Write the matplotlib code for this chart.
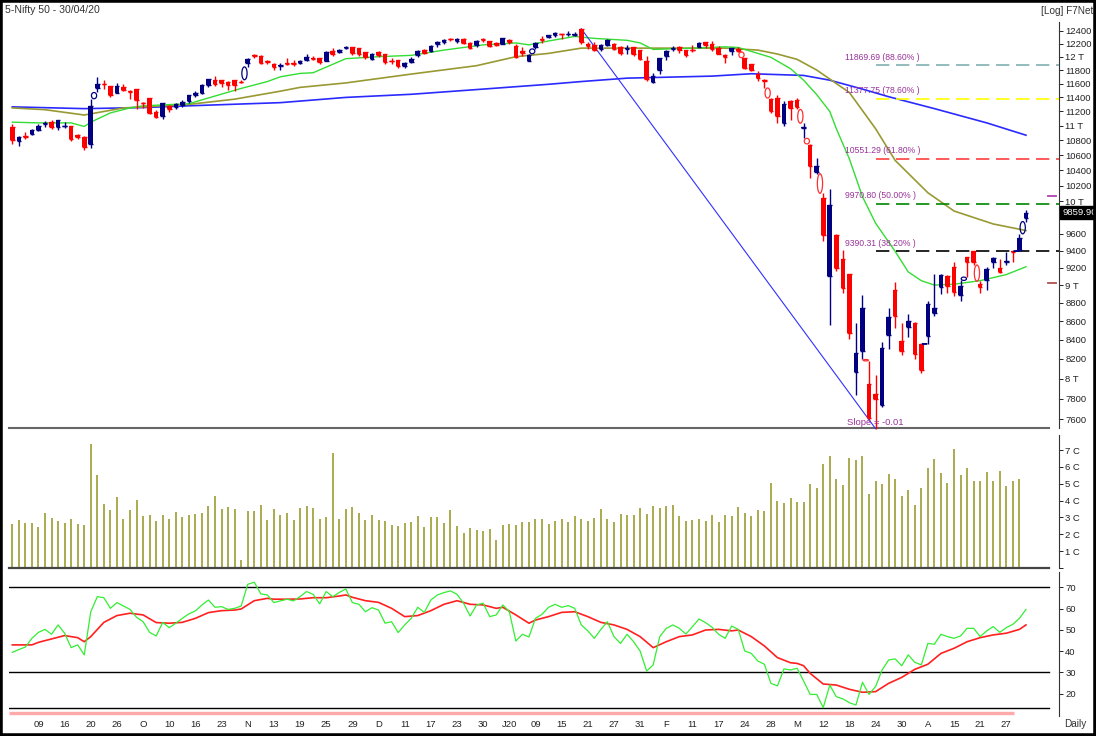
import matplotlib
matplotlib.use("Agg")
import matplotlib.pyplot as plt
from matplotlib import font_manager
from matplotlib.patches import Ellipse, Rectangle
import numpy as np

# ---------------- data (Nifty 50 daily, 03 Sep 2019 - 30 Apr 2020) ----------------
opens = [10980, 10790, 10860, 10883, 10936, 11028, 11058, 10986, 10995, 10995, 10872, 10845, 10746,
         11542, 11590, 11564, 11469, 11556, 11490, 11515, 11322, 11388, 11196, 11139, 11275, 11258,
         11297, 11348, 11436, 11467, 11580, 11657, 11657, 11620, 11646, 11629,
         11900, 12030, 12016, 11933, 11897, 11860, 11904, 11910, 11899, 11956, 11978, 11976, 11941,
         12090, 12075, 12132, 12146, 12137, 12067, 11969, 12071, 12046, 11939, 11950, 11867, 11918,
         12026, 12094, 12082, 12197, 12224, 12273, 12235, 12270, 12211, 12172, 12274, 12247, 12202,
         12198, 12261, 12170, 12079, 11939, 12153, 12271, 12296, 12333, 12349, 12348, 12329, 12430,
         12195, 12180, 12123, 12174, 12197, 12148, 12114, 12148, 12100, 11940, 11627, 11797, 12005,
         12120, 12152, 12102, 12109, 12151, 12219, 12190, 12131, 12028, 12091, 12119, 11979, 11886,
         11738, 11649, 11380, 11387, 11034, 11351, 11359, 10970, 10742, 10380, 10039, 9107, 9588,
         9300, 9123, 8063, 8286, 7945, 7848, 7735, 8451, 8949, 8385, 8540, 8584, 8356, 8446, 8689,
         8973, 9104, 9210, 8885, 9324, 9391, 9017, 9055, 9270, 9200, 9260, 9390, 9408, 9790]
highs = [11030, 10858, 10920, 10957, 11028, 11063, 11082, 11084, 11053, 10996, 10885, 10860, 11381,
         11695, 11655, 11564, 11610, 11593, 11509, 11515, 11332, 11389, 11215, 11322, 11285, 11323,
         11357, 11439, 11486, 11597, 11671, 11714, 11658, 11645, 11646, 11656,
         11982, 12034, 12021, 11950, 11906, 11907, 11973, 11946, 11957, 12039, 12013, 11976, 12084,
         12133, 12115, 12158, 12150, 12137, 12068, 12055, 12082, 12046, 11981, 11951, 11924, 12000,
         12098, 12113, 12182, 12237, 12268, 12293, 12287, 12283, 12221, 12259, 12286, 12247, 12222,
         12289, 12265, 12200, 12153, 12045, 12225, 12311, 12337, 12374, 12350, 12389, 12385, 12430,
         12231, 12226, 12190, 12273, 12216, 12163, 12179, 12150, 12103, 12017, 11749, 11986, 12098,
         12160, 12160, 12104, 12172, 12231, 12225, 12246, 12159, 12040, 12135, 12153, 11984, 11887,
         11783, 11663, 11390, 11433, 11342, 11356, 11389, 11035, 10751, 10560, 10103, 10159, 9602,
         9403, 9127, 8575, 8883, 8180, 8036, 8376, 8749, 9038, 8576, 8678, 8588, 8356, 8819, 9131,
         9128, 9112, 9261, 9053, 9324, 9391, 9044, 9208, 9323, 9296, 9377, 9390, 9600, 9889]
lows = [10746, 10723, 10816, 10867, 10925, 10985, 10957, 10945, 10968, 10796, 10812, 10671, 10691,
        11471, 11520, 11410, 11459, 11499, 11375, 11236, 11254, 11158, 11113, 11090, 11191, 11233,
        11267, 11313, 11402, 11446, 11550, 11570, 11552, 11507, 11490, 11606,
        11847, 11973, 11888, 11888, 11802, 11807, 11868, 11860, 11885, 11929, 11957, 11892, 11930,
        12016, 12049, 12112, 12022, 12006, 11969, 11956, 11998, 11888, 11887, 11832, 11832, 11900,
        11990, 12039, 12066, 12155, 12191, 12244, 12213, 12201, 12119, 12155, 12229, 12151, 12165,
        12195, 12191, 11975, 12005, 11929, 12118, 12213, 12285, 12308, 12278, 12315, 12315, 12192,
        12114, 12090, 12087, 12163, 12107, 12024, 12047, 12010, 11945, 11633, 11614, 11740, 11953,
        12084, 12061, 11990, 12074, 12144, 12139, 12091, 12037, 11908, 12030, 12071, 11813, 11782,
        11639, 11536, 11175, 11036, 11001, 11082, 11229, 10827, 10294, 10355, 9508, 8555, 9165,
        8915, 8407, 7833, 8195, 7583, 7511, 7714, 8304, 8522, 8244, 8432, 8199, 8055, 8360, 8654,
        8905, 8912, 8874, 8821, 9091, 9230, 8909, 8946, 9200, 9141, 9230, 9260, 9395, 9750]
closes = [10797.9, 10844.65, 10847.9, 10946.2, 11003.05, 11035.7, 10982.8, 11075.9, 11003.5,
          10817.6, 10840.65, 10704.8, 11274.2, 11600.2, 11588.2, 11440.2, 11571.2, 11512.4,
          11474.45, 11359.9, 11314, 11174.75, 11126.4, 11313.3, 11234.55, 11305.05, 11341.15,
          11428.3, 11464, 11586.35, 11661.85, 11588.35, 11604.1, 11582.6, 11583.9, 11627.15,
          11966.05, 12012.05, 11908.15, 11913.45, 11840.45, 11872.1, 11895.45, 11884.5, 11940.1,
          11999.1, 11968.4, 11914.4, 12073.75, 12037.7, 12100.7, 12151.15, 12056.05, 12048.2,
          11994.2, 12043.2, 12018.4, 11921.5, 11937.5, 11856.8, 11910.15, 11971.8, 12086.7,
          12053.95, 12165, 12221.65, 12259.7, 12271.8, 12262.75, 12214.55, 12126.55, 12245.8,
          12255.85, 12168.45, 12182.5, 12282.2, 12226.65, 11993.05, 12052.95, 12025.35, 12215.9,
          12256.8, 12329.55, 12362.3, 12343.3, 12355.5, 12352.35, 12224.55, 12169.85, 12106.9,
          12180.35, 12248.25, 12119, 12055.8, 12129.5, 12035.8, 11962.1, 11661.85, 11707.9,
          11979.65, 12089.15, 12137.95, 12098.35, 12031.5, 12107.9, 12201.2, 12174.65, 12113.45,
          12045.8, 11992.5, 12125.9, 12080.85, 11829.4, 11797.9, 11678.5, 11633.3, 11201.75,
          11132.75, 11303.3, 11251, 11269, 10989.45, 10451.45, 10458.4, 9590.15, 9955.2, 9197.4,
          8967.05, 8468.8, 8263.45, 8745.45, 7610.25, 7801.05, 8317.85, 8641.45, 8660.25, 8281.1,
          8597.75, 8253.8, 8083.8, 8792.2, 8748.75, 9111.9, 8993.85, 8925.3, 8992.8, 9266.75,
          9261.85, 8981.45, 9187.3, 9313.9, 9154.4, 9282.3, 9380.9, 9553.35, 9859.9]

# volume in crore (last session not yet printed)
volumes = [2.61, 2.85, 2.67, 2.67, 2.42, 3.28, 2.95, 2.79, 2.67, 2.91, 2.61, 2.55, 7.37, 5.50, 3.77,
           3.44, 4.20, 2.91, 3.44, 4.03, 3.06, 3.12, 2.79, 3.16, 2.91, 3.32, 3.01, 3.12, 3.22, 3.28,
           3.65, 4.26, 3.50, 3.60, 3.50, 0.49, 3.38, 3.38, 3.71, 2.85, 3.50, 3.12, 3.28, 2.85, 3.56,
           3.65, 3.56, 2.91, 3.01, 6.84, 2.91, 3.50, 3.60, 3.28, 2.85, 3.16, 2.85, 2.79, 2.57, 2.51,
           2.67, 2.73, 3.06, 2.42, 3.01, 3.01, 2.67, 3.44, 2.48, 2.08, 2.36, 2.26, 2.20, 2.30, 1.69,
           2.55, 2.61, 2.55, 2.73, 2.73, 2.91, 2.91, 2.61, 2.81, 2.91, 2.75, 3.06, 2.91, 2.81, 2.97,
           3.52, 2.91, 2.75, 3.18, 3.12, 3.12, 3.56, 3.18, 3.67, 3.56, 3.67, 3.73, 3.06, 2.81, 2.87,
           2.91, 2.81, 3.12, 2.75, 3.12, 3.06, 3.61, 3.24, 3.06, 3.46, 3.40, 5.03, 3.99, 3.83, 4.17,
           3.89, 3.93, 4.97, 4.75, 6.17, 6.62, 5.27, 4.93, 6.50, 6.40, 6.62, 4.38, 5.15, 4.99, 5.58,
           5.30, 4.26, 4.60, 3.73, 4.75, 5.95, 6.44, 5.64, 5.03, 7.05, 5.52, 5.91, 5.15, 5.19, 5.70,
           5.19, 5.76, 4.87, 5.15, 5.27]

rsi = [39.4, 40.7, 41.9, 46.0, 48.8, 50.2, 47.9, 52.3, 48.4, 41.6, 42.9, 38.2, 58.5, 65.6, 65.1,
       60.1, 62.8, 61.2, 59.6, 55.9, 53.8, 48.8, 47.1, 53.5, 51.0, 53.1, 55.4, 57.5, 58.9, 61.7,
       64.0, 60.6, 60.9, 59.6, 60.1, 61.2, 71.4, 72.4, 66.9, 66.4, 62.8, 63.6, 64.4, 63.6, 65.6,
       68.0, 66.7, 62.2, 68.0, 65.6, 67.6, 69.2, 62.8, 62.0, 58.5, 60.4, 59.3, 53.1, 53.8, 48.7,
       52.3, 55.4, 60.6, 58.2, 64.0, 66.4, 67.5, 68.3, 66.7, 62.5, 56.5, 61.7, 62.5, 56.2, 57.0,
       61.7, 58.5, 44.7, 47.9, 46.6, 55.4, 57.3, 60.6, 62.0, 60.6, 61.4, 60.1, 52.3, 49.5, 46.0,
       50.2, 53.8, 46.8, 43.6, 47.9, 44.4, 40.0, 30.6, 33.5, 46.8, 50.7, 52.3, 50.7, 48.0, 51.5,
       55.1, 53.4, 51.2, 47.9, 46.0, 51.8, 50.2, 40.0, 38.9, 35.3, 33.8, 24.8, 23.6, 31.6, 31.1,
       31.9, 25.9, 19.6, 19.6, 13.4, 24.0, 18.5, 17.5, 15.7, 14.6, 25.3, 19.6, 23.3, 31.1, 35.8,
       36.3, 33.1, 38.2, 34.7, 33.5, 43.6, 43.2, 47.9, 46.8, 46.0, 47.1, 50.7, 50.7, 46.8, 49.5,
       51.5, 48.8, 51.0, 52.6, 55.4, 59.6]

sig_idx = [0, 3, 4, 6, 8, 10, 11, 12, 14, 16, 18, 20, 22, 24, 26, 28, 30, 32, 34, 35, 37, 39, 40,
           42, 44, 46, 48, 50, 51, 52, 54, 56, 58, 60, 62, 64, 66, 68, 70, 72, 74, 75, 77, 79, 80,
           82, 84, 86, 88, 90, 92, 94, 96, 98, 100, 102, 104, 106, 108, 110, 111, 113, 115, 117,
           119, 120, 121, 122, 124, 126, 128, 130, 132, 134, 136, 138, 140, 142, 144, 146, 148,
           150, 152, 154, 155]
sig_val = [42.9, 42.9, 44.1, 45.7, 47.3, 46.3, 44.4, 46.8, 53.5, 56.7, 57.8, 57.0, 53.4, 53.1,
           53.5, 55.4, 58.1, 59.0, 59.3, 59.8, 63.7, 64.8, 64.4, 64.4, 64.5, 65.1, 65.1, 65.9,
           66.4, 65.3, 63.7, 62.9, 60.1, 56.2, 56.7, 59.0, 62.0, 63.7, 62.0, 61.7, 60.1, 60.6,
           57.0, 53.1, 54.6, 56.2, 58.2, 58.5, 56.2, 53.5, 52.3, 50.2, 46.8, 41.6, 44.4, 46.8,
           47.6, 49.9, 50.2, 49.5, 49.9, 46.8, 42.4, 36.9, 34.5, 34.2, 33.1, 29.5, 24.5, 24.0,
           22.0, 20.6, 20.9, 24.8, 27.6, 31.4, 33.8, 38.9, 41.3, 44.4, 46.3, 47.6, 48.4, 50.2, 52.3]

# moving averages
ma_fast_idx = [0, 4, 9, 11, 12, 15, 18, 20, 27, 31, 35, 39, 41, 44, 46, 51, 56, 61, 66, 72, 77, 79,
               82, 86, 89, 94, 96, 98, 104, 109, 111, 114, 116, 119, 121, 123, 125, 126, 128, 130,
               132, 135, 137, 139, 141, 144, 148, 152, 155]
ma_fast = [11050, 11040, 11040, 10990, 11050, 11180, 11250, 11280, 11310, 11420, 11530, 11630,
           11700, 11750, 11760, 11970, 12000, 12020, 12100, 12180, 12210, 12180, 12240, 12310,
           12280, 12250, 12210, 12110, 12130, 12150, 12140, 12050, 11990, 11820, 11650, 11440,
           11200, 10960, 10550, 10060, 9730, 9390, 9150, 9050, 9000, 9010, 9050, 9120, 9210]
ma_mid_idx = [0, 5, 11, 17, 27, 34, 41, 44, 51, 61, 71, 77, 82, 87, 99, 109, 114, 117, 120, 123,
              128, 132, 135, 140, 144, 150, 155]
ma_mid = [11250, 11225, 11150, 11250, 11300, 11375, 11490, 11545, 11610, 11740, 11865, 12000,
          12050, 12130, 12130, 12130, 12100, 12040, 11960, 11800, 11470, 10960, 10530, 10110,
          9880, 9720, 9640]
ma_slow_idx = [0, 11, 20, 27, 41, 51, 61, 72, 82, 87, 94, 107, 113, 121, 125, 130, 134, 141, 149, 155]
ma_slow = [11265, 11240, 11255, 11280, 11325, 11400, 11445, 11520, 11590, 11630, 11680, 11710,
           11745, 11720, 11650, 11520, 11410, 11240, 11040, 10870]

fib_levels = [9390.31, 9970.80, 10551.29, 11377.75, 11869.69]
fib_pcts = ["38.20%", "50.00%", "61.80%", "78.60%", "88.60%"]
fib_colors = ["#000000", "#008800", "#ff4040", "#ffff00", "#80b0b0"]
swing_high_bar, swing_low_bar = 87, 132
side_marks = [10068, 9023]
side_colors = ["#b040b0", "#b05050"]

tick_pos = list(range(4, 153, 4))
tick_labels = ["09", "16", "20", "26", "O", "10", "16", "23", "N", "13", "19", "25", "29", "D",
               "11", "17", "23", "30", "J20", "09", "15", "21", "27", "31", "F", "11", "17", "24",
               "28", "M", "12", "18", "24", "30", "A", "15", "21", "27"]

# ---------------- figure ----------------
names = {f.name for f in font_manager.fontManager.ttflist}
narrow = "Liberation Sans Narrow" if "Liberation Sans Narrow" in names else "Liberation Sans"
plt.rcParams["font.family"] = ["Liberation Sans", "DejaVu Sans"]

W, H = 1096, 736
fig = plt.figure(figsize=(W / 100, H / 100), dpi=100)


def px_box(x0, y0, x1, y1):
    return [x0 / W, 1 - y1 / H, (x1 - x0) / W, (y1 - y0) / H]


ax_p = fig.add_axes(px_box(9, 22, 1059, 428))
ax_v = fig.add_axes(px_box(9, 435, 1059, 568))
ax_r = fig.add_axes(px_box(9, 572, 1059, 716))

xlim = (-0.505, 160.05)
TXT = "#222222"
for ax in (ax_p, ax_v, ax_r):
    ax.set_xlim(*xlim)
    for s in ("top", "left", "bottom"):
        ax.spines[s].set_visible(False)
    ax.spines["right"].set_color("#333333")
    ax.spines["right"].set_linewidth(0.8)
    ax.yaxis.tick_right()
    ax.tick_params(axis="y", direction="out", length=3, width=0.7, pad=1.5,
                   labelsize=6.8, colors=TXT)
    ax.tick_params(axis="x", length=0)
    ax.set_xticks([])
    ax.set_facecolor("white")

# ---- price panel ----
o, h, l, c = map(np.asarray, (opens, highs, lows, closes))
x = np.arange(len(c))
up = c >= o
cols = np.where(up, "#000080", "#ff0000")

ax_p.set_yscale("log")
ax_p.set_ylim(7517.2, 12536)
pticks = list(range(7600, 12401, 200))
ax_p.set_yticks(pticks)
# the 9800 label sits under the last-price box in the original
ax_p.set_yticklabels(["" if v == 9800 else (f"{v // 1000} T" if v % 1000 == 0 else str(v))
                      for v in pticks])
ax_p.minorticks_off()

ax_p.plot(ma_slow_idx, ma_slow, color="#2a2aff", lw=1.2, zorder=2)
ax_p.plot(ma_mid_idx, ma_mid, color="#999933", lw=1.2, zorder=2)
ax_p.plot(ma_fast_idx, ma_fast, color="#33dd33", lw=1.0, zorder=2)

ax_p.vlines(x, l, h, colors=cols, lw=1.0, zorder=3)
lo_b, hi_b = np.minimum(o, c), np.maximum(o, c)
ax_p.bar(x, hi_b - lo_b, bottom=lo_b, width=0.7, color=cols, linewidth=0, zorder=4)
ax_p.hlines(c, x - 0.35, x + 0.35, colors=cols, lw=1.0, zorder=4)
ax_p.hlines(o, x - 0.35, x + 0.35, colors=cols, lw=1.0, zorder=4)

# gap markers
for i in range(len(c) - 1):
    if l[i + 1] > h[i]:
        lo_g, hi_g, ec = h[i], l[i + 1], "#000080"
    elif h[i + 1] < l[i]:
        lo_g, hi_g, ec = h[i + 1], l[i], "#ff3030"
    else:
        continue
    ax_p.add_patch(Ellipse((i + 0.5, (lo_g + hi_g) / 2), 0.8, hi_g - lo_g, fill=False,
                           ec=ec, lw=0.9, zorder=5))

# trend line
ax_p.plot([swing_high_bar, swing_low_bar], [h[swing_high_bar], l[swing_low_bar]],
          color="#3030ff", lw=0.8, zorder=3, clip_on=False)
ax_p.annotate("Slope = -0.01", (swing_low_bar, l[swing_low_bar]), xytext=(0, 1.5),
              textcoords="offset points", ha="center", va="bottom", fontsize=6.8,
              color="#993399", annotation_clip=False, zorder=6)
ax_p.vlines(swing_low_bar, l[swing_low_bar], l[swing_low_bar] * 1.007, color="red", lw=0.8,
            zorder=6, clip_on=False)

# fibonacci levels
for lev, pct, fc in zip(fib_levels, fib_pcts, fib_colors):
    ax_p.plot([swing_low_bar, xlim[1]], [lev, lev], color=fc, lw=1.2, dashes=(8, 4), zorder=2)
    ax_p.annotate(f"{lev:.2f} ({pct} )", (swing_low_bar - 4.6, lev), xytext=(0, 2.5),
                  textcoords="offset points", ha="left", va="bottom", fontsize=6.2,
                  family=narrow, color="#993399", zorder=6)

for v, sc in zip(side_marks, side_colors):
    ax_p.plot([158.4, 159.6], [v, v], color=sc, lw=1.3, zorder=3)

# last price box
ax_p.text(1.0035, closes[-1], f"{closes[-1]:.2f}", transform=ax_p.get_yaxis_transform(),
          ha="left", va="center", fontsize=6.8, color="white", zorder=10, clip_on=False,
          bbox=dict(boxstyle="square,pad=0.25", fc="black", ec="black"))

ax_p.plot([0, 0.9905], [0, 0], transform=ax_p.transAxes, color="#666666", lw=1.5,
          clip_on=False, zorder=1)

# ---- volume panel ----
ax_v.set_ylim(0, 7.89)
ax_v.set_yticks(range(8))
ax_v.set_yticklabels([""] + [f"{k} C" for k in range(1, 8)])
ax_v.vlines(x[:len(volumes)], 0, volumes, color="#9c9c30", lw=1.2)
ax_v.plot([0, 0.9905], [0, 0], transform=ax_v.transAxes, color="#444444", lw=1.6,
          clip_on=False)

# ---- RSI panel ----
ax_r.set_ylim(9.44, 77.2)
ax_r.set_yticks([20, 30, 40, 50, 60, 70])
for lev in (70, 30, 13.1):
    ax_r.plot([0, 0.9905], [lev, lev], transform=ax_r.get_yaxis_transform(), color="black",
              lw=1.0, zorder=1)
ax_r.plot([0, 0.9575], [10.85, 10.85], transform=ax_r.get_yaxis_transform(), color="#ffaaaa",
          lw=2.4, zorder=1, solid_capstyle="butt")
ax_r.plot(x, rsi, color="#33ee33", lw=0.9, zorder=3)
ax_r.plot(sig_idx, sig_val, color="#ff2020", lw=1.2, zorder=2)
ax_r.set_xticks(tick_pos)
ax_r.set_xticklabels(tick_labels)
ax_r.tick_params(axis="x", length=0, pad=3, labelsize=6.8, colors=TXT)

# ---- texts & frame ----
fig.text(5 / W, 1 - 10 / H, "5-Nifty 50 - 30/04/20", ha="left", va="center", fontsize=7.6,
         color="#333333")
fig.text(1093 / W, 1 - 11 / H, "[Log] F7Net", ha="right", va="center", fontsize=7.2,
         color="#333333")
fig.text(1064 / W, 1 - 724 / H, "Daily", ha="left", va="center", fontsize=7.2, color="#333333")
fig.patches.append(Rectangle((0, 0), 1, 1, transform=fig.transFigure, fill=False,
                             ec="black", lw=4, zorder=20))

fig.savefig("out.png", dpi=100)
